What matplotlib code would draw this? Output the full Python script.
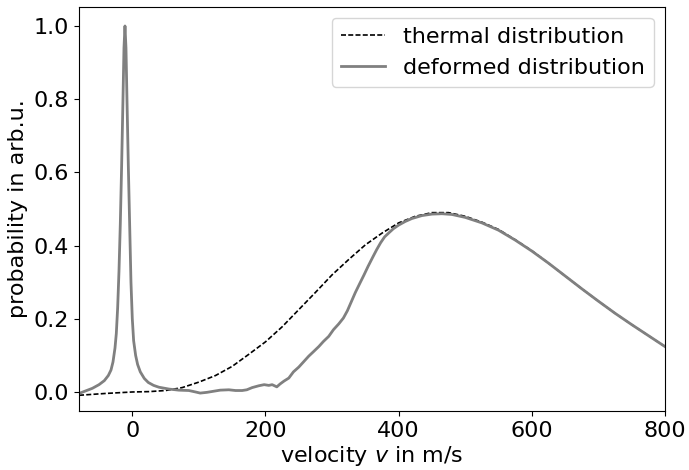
import numpy as np
import matplotlib
matplotlib.use("Agg")
import matplotlib.pyplot as plt

# thermal distribution
v_thermal = [-80, -40, 0, 25, 50, 75, 100, 125, 150, 175, 200, 225, 250, 275,
             300, 325, 350, 375, 400, 425, 450, 475, 500, 525, 550, 575, 600,
             625, 650, 675, 700, 725, 750, 775, 800]
p_thermal = [-0.009, -0.004, 0.000, 0.001, 0.004, 0.012, 0.027, 0.045, 0.070,
             0.103, 0.137, 0.178, 0.225, 0.272, 0.320, 0.362, 0.402, 0.434,
             0.462, 0.480, 0.490, 0.490, 0.480, 0.464, 0.444, 0.416, 0.386,
             0.352, 0.317, 0.282, 0.248, 0.215, 0.184, 0.154, 0.124]

# deformed distribution (narrow peak near zero + depleted slow part)
v_deformed = [-80, -70, -60, -50, -42, -36, -32, -29, -26, -24, -22, -20, -18,
              -16, -14, -12.5, -11, -9.5, -8, -6, -4, -2, 0, 2, 5, 8, 12, 18,
              24, 32, 40, 55, 70, 85, 95, 102, 112, 122, 132, 145, 155, 165,
              172, 180, 190, 198, 205, 210, 217, 222, 228, 235, 242, 250, 257,
              265, 272, 280, 287, 295, 302, 310, 317, 323, 329, 335, 342, 348,
              354, 361, 367, 373, 379, 386, 392, 400, 410, 420, 435, 450, 465,
              480, 500, 525, 550, 575, 600, 625, 650, 675, 700, 725, 750, 775,
              800]
p_deformed = [-0.004, 0.003, 0.010, 0.020, 0.031, 0.045, 0.060, 0.082, 0.120,
              0.160, 0.230, 0.330, 0.460, 0.620, 0.800, 0.940, 1.000, 0.940,
              0.800, 0.620, 0.460, 0.300, 0.200, 0.140, 0.100, 0.075, 0.055,
              0.037, 0.026, 0.018, 0.013, 0.008, 0.005, 0.004, 0.000, -0.003,
              -0.001, 0.002, 0.005, 0.006, 0.004, 0.004, 0.006, 0.012, 0.017,
              0.020, 0.018, 0.020, 0.014, 0.022, 0.030, 0.038, 0.055, 0.068,
              0.082, 0.098, 0.110, 0.124, 0.138, 0.152, 0.170, 0.186, 0.202,
              0.222, 0.247, 0.272, 0.298, 0.320, 0.343, 0.368, 0.389, 0.408,
              0.424, 0.436, 0.446, 0.456, 0.466, 0.474, 0.482, 0.486, 0.487,
              0.485, 0.477, 0.462, 0.442, 0.415, 0.385, 0.352, 0.317, 0.282,
              0.248, 0.215, 0.184, 0.154, 0.124]

fs = 16

fig = plt.figure(figsize=(6.89, 4.70), dpi=100)
ax = fig.add_axes([0.1147, 0.1255, 0.8505, 0.8605])

ax.plot(v_thermal, p_thermal, color='black', lw=1.2, dashes=(3.0, 1.35),
        label='thermal distribution')
ax.plot(v_deformed, p_deformed, '-', color='gray', lw=2, label='deformed distribution')

ax.set_xlim(-80, 800)
ax.set_ylim(-0.052, 1.053)
ax.set_xticks([0, 200, 400, 600, 800])
ax.set_yticks([0.0, 0.2, 0.4, 0.6, 0.8, 1.0])
ax.tick_params(labelsize=fs)
ax.set_xlabel('velocity $v$ in m/s', fontsize=fs, labelpad=2)
ax.set_ylabel('probability in arb.u.', fontsize=fs, labelpad=4)
ax.legend(loc='upper right', fontsize=fs)

fig.savefig('out.png', dpi=100)
